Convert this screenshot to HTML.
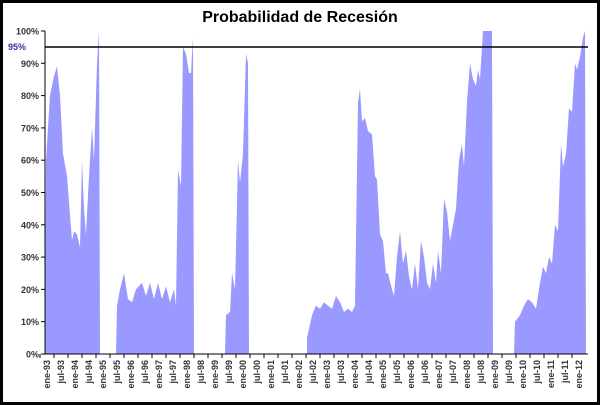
<!DOCTYPE html>
<html><head><meta charset="utf-8"><style>
html,body{margin:0;padding:0;background:#fff}
svg{display:block}
text{font-family:"Liberation Sans",Arial,sans-serif}
</style></head><body>
<svg id="s" width="600" height="405" viewBox="0 0 600 405" xmlns="http://www.w3.org/2000/svg">
<rect x="1.5" y="1.5" width="597" height="402" fill="#fff" stroke="#000" stroke-width="3"/>
<text x="300" y="22" text-anchor="middle" font-size="16" font-weight="bold" fill="#000">Probabilidad de Recesión</text>
<g id="g"></g>
</svg>
<script>
const g=document.getElementById('g');const NS='http://www.w3.org/2000/svg';
function el(t,a,txt){const e=document.createElementNS(NS,t);for(const k in a)e.setAttribute(k,a[k]);if(txt!==undefined)e.textContent=txt;g.appendChild(e);return e;}
const Y=p=>354-3.23*p;
const segs=[
[[45,0],[46,60],[50,80],[54,86],[57,89],[60,80],[63,62],[67,55],[72,35],[74,38],[77,37],[80,33],[82,60],[84,45],[86,37],[89,55],[92,70],[94,60],[97,90],[99,100],[100,0]],
[[116,0],[117,15],[120,20],[124,25],[128,17],[132,16],[136,20],[142,22],[146,18],[150,22],[154,17],[158,22],[162,17],[166,21],[170,16],[174,20],[176,15],[178,57],[181,52],[183,95],[186,93],[189,87],[191,87],[193,98],[194,0]],
[[225,0],[226,12],[230,13],[232,25],[235,20],[238,60],[240,53],[243,62],[246,93],[248,90],[249,0]],
[[307,0],[307,5],[312,12],[316,15],[320,14],[324,16],[328,15],[332,14],[336,18],[340,16],[344,13],[348,14],[352,13],[355,15],[358,78],[360,82],[362,72],[365,73],[368,69],[372,68],[375,55],[377,54],[380,37],[383,35],[386,25],[388,25],[392,20],[394,18],[397,30],[400,38],[403,28],[406,32],[409,24],[412,20],[415,28],[418,20],[421,35],[424,30],[427,22],[430,20],[433,28],[436,22],[438,32],[441,25],[444,48],[447,44],[450,35],[453,40],[456,45],[459,60],[462,65],[464,58],[467,78],[470,90],[473,85],[476,83],[478,88],[480,85],[483,100],[492,100],[493,0]],
[[514,0],[515,10],[520,12],[524,15],[528,17],[532,16],[536,14],[540,22],[543,27],[546,25],[549,30],[552,28],[555,40],[558,38],[561,65],[563,58],[566,62],[569,76],[572,75],[575,90],[577,88],[580,92],[583,98],[585,100],[586,0]]];
segs.forEach(s=>{el('polygon',{points:s.map(p=>p[0]+','+Y(p[1]).toFixed(1)).join(' '),fill:'#9999ff'});});
// axes
el('line',{x1:45,y1:31,x2:45,y2:354,stroke:'#000','stroke-width':1});
el('line',{x1:45,y1:354,x2:588,y2:354,stroke:'#000','stroke-width':1});
for(let i=0;i<=10;i++){const y=Y(i*10);el('line',{x1:41,y1:y,x2:45,y2:y,stroke:'#000'});
 el('text',{x:39,y:y+3.5,'text-anchor':'end','font-size':9,'font-weight':'bold',fill:'#333'},i*10+'%');}
el('line',{x1:45,y1:47,x2:588,y2:47,stroke:'#000','stroke-width':1.5});
el('text',{x:8,y:50,'font-size':9,'font-weight':'bold',fill:'#333399'},'95%');
const m=['ene','jul'];
for(let k=0;k<=38;k++){const x=47+14.0*k;
 el('line',{x1:x-7,y1:354,x2:x-7,y2:358,stroke:'#000'});
 const yr=(93+Math.floor(k/2))%100;const lab=m[k%2]+'-'+String(yr).padStart(2,'0');
 const t=el('text',{x:0,y:0,'text-anchor':'end','font-size':9,'font-weight':'bold',fill:'#333',transform:`translate(${x+3},360) rotate(-90)`},lab);}
</script>
</body></html>
